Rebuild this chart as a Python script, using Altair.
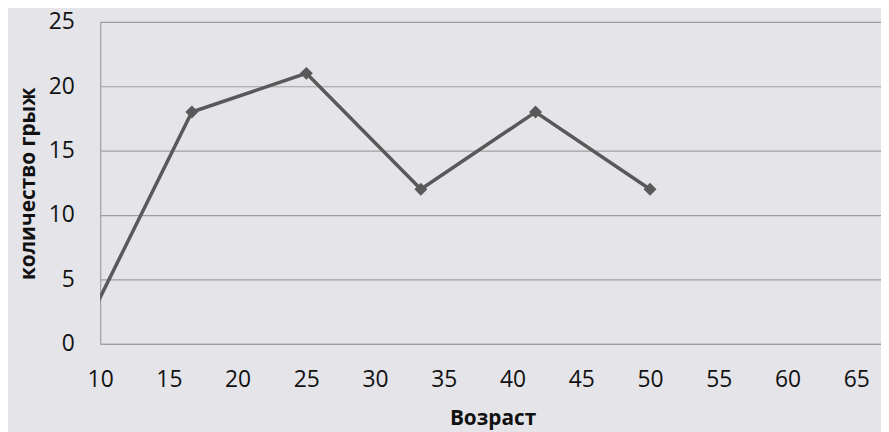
import altair as alt
import pandas as pd

# Data
ages = [8.33, 16.67, 25.0, 33.33, 41.67, 50.0]
counts = [0, 18, 21, 12, 18, 12]
x_ticks = [10, 15, 20, 25, 30, 35, 40, 45, 50, 55, 60, 65]
y_ticks = [0, 5, 10, 15, 20, 25]

df = pd.DataFrame({"age": ages, "count": counts})

FONT = "Open Sans"
LINE = "#595959"
GRID = "#a0a0a0"

x_enc = alt.X(
    "age:Q",
    scale=alt.Scale(domain=[10, 66.8], nice=False, zero=False),
    axis=alt.Axis(
        values=x_ticks, title="Возраст", grid=False, ticks=False, tickSize=0,
        domainColor=GRID, domainWidth=1.2,
        labelFont=FONT, labelFontSize=23, labelColor="#111111",
        labelPadding=36, labelBaseline="middle", labelFlush=False,
        titleFont=FONT, titleFontSize=21, titleFontWeight="bold", titleColor="#111111",
        titleX=396, titleY=75, titleBaseline="middle", titleAlign="center",
    ),
)
y_enc = alt.Y(
    "count:Q",
    scale=alt.Scale(domain=[0, 25], nice=False),
    axis=alt.Axis(
        values=y_ticks, title="количество грыж", grid=True, gridColor=GRID, gridWidth=1.2,
        ticks=False, tickSize=0, domainColor=GRID, domainWidth=1.2,
        labelFont=FONT, labelFontSize=23, labelColor="#111111",
        labelPadding=26, labelAlign="right", labelBaseline="middle",
        titleFont=FONT, titleFontSize=21, titleFontWeight="bold", titleColor="#111111",
        titleX=-72, titleY=163, titleAngle=270, titleBaseline="middle", titleAlign="center",
    ),
)

base = alt.Chart(df)
line = base.mark_line(color=LINE, strokeWidth=3.5, clip=True).encode(x=x_enc, y=y_enc)
points = base.transform_filter("datum.age >= 10").mark_point(
    shape="diamond", filled=True, size=170, color=LINE, opacity=1
).encode(x=x_enc, y=y_enc)

chart = (
    alt.layer(line, points)
    .properties(
        width=788, height=325,
        autosize=alt.AutoSizeParams(type="none"),
        padding={"left": 93, "top": 12, "right": 0, "bottom": 87},
        background="#e4e4e9",
    )
    .configure_view(stroke=None)
)

chart.save("out.html", embed_options={"renderer": "svg", "actions": False})
